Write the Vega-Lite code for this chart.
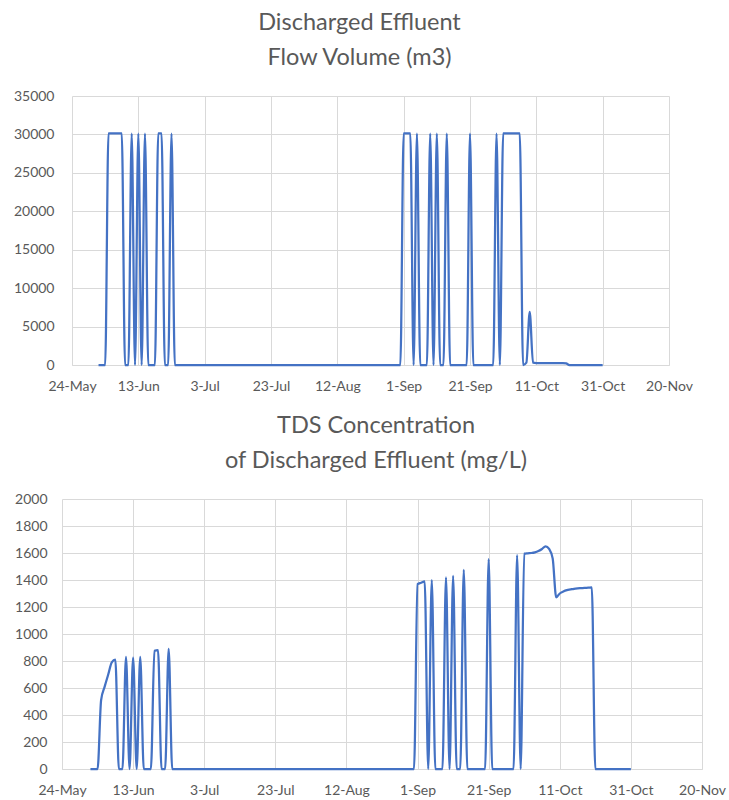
{
  "$schema": "https://vega.github.io/schema/vega-lite/v6.json",
  "padding": {"left": 13, "top": 10, "right": 5, "bottom": 5},
  "background": "white",
  "config": {
    "view": {"stroke": null},
    "font": "Lato",
    "axis": {"labelFont": "Lato", "labelFontSize": 14, "labelColor": "#595959", "gridColor": "#d9d9d9", "gridWidth": 1, "domain": false, "ticks": false, "title": null},
    "title": {"font": "Lato", "fontSize": 23.5, "fontWeight": "normal", "color": "#595959", "lineHeight": 35, "anchor": "middle"},
    "concat": {"spacing": 20},
    "line": {"color": "#4472C4", "strokeWidth": 2.25, "interpolate": "monotone"}
  },
  "datasets": {
    "d": [
      {"d": "2021/06/01", "f": 0, "t": 0},
      {"d": "2021/06/02", "f": 0, "t": 0},
      {"d": "2021/06/03", "f": 0, "t": 0},
      {"d": "2021/06/04", "f": 30150, "t": 510},
      {"d": "2021/06/05", "f": 30150, "t": 610},
      {"d": "2021/06/06", "f": 30150, "t": 700},
      {"d": "2021/06/07", "f": 30150, "t": 790},
      {"d": "2021/06/08", "f": 30150, "t": 810},
      {"d": "2021/06/09", "f": 0, "t": 0},
      {"d": "2021/06/10", "f": 0, "t": 0},
      {"d": "2021/06/11", "f": 30100, "t": 830},
      {"d": "2021/06/12", "f": 0, "t": 0},
      {"d": "2021/06/13", "f": 30100, "t": 825},
      {"d": "2021/06/14", "f": 0, "t": 0},
      {"d": "2021/06/15", "f": 30100, "t": 830},
      {"d": "2021/06/16", "f": 0, "t": 0},
      {"d": "2021/06/17", "f": 0, "t": 0},
      {"d": "2021/06/18", "f": 0, "t": 0},
      {"d": "2021/06/19", "f": 30150, "t": 875},
      {"d": "2021/06/20", "f": 30150, "t": 880},
      {"d": "2021/06/21", "f": 0, "t": 0},
      {"d": "2021/06/22", "f": 0, "t": 0},
      {"d": "2021/06/23", "f": 30100, "t": 890},
      {"d": "2021/06/24", "f": 0, "t": 0},
      {"d": "2021/06/25", "f": 0, "t": 0},
      {"d": "2021/06/26", "f": 0, "t": 0},
      {"d": "2021/06/27", "f": 0, "t": 0},
      {"d": "2021/06/28", "f": 0, "t": 0},
      {"d": "2021/06/29", "f": 0, "t": 0},
      {"d": "2021/06/30", "f": 0, "t": 0},
      {"d": "2021/07/01", "f": 0, "t": 0},
      {"d": "2021/07/02", "f": 0, "t": 0},
      {"d": "2021/07/03", "f": 0, "t": 0},
      {"d": "2021/07/04", "f": 0, "t": 0},
      {"d": "2021/07/05", "f": 0, "t": 0},
      {"d": "2021/07/06", "f": 0, "t": 0},
      {"d": "2021/07/07", "f": 0, "t": 0},
      {"d": "2021/07/08", "f": 0, "t": 0},
      {"d": "2021/07/09", "f": 0, "t": 0},
      {"d": "2021/07/10", "f": 0, "t": 0},
      {"d": "2021/07/11", "f": 0, "t": 0},
      {"d": "2021/07/12", "f": 0, "t": 0},
      {"d": "2021/07/13", "f": 0, "t": 0},
      {"d": "2021/07/14", "f": 0, "t": 0},
      {"d": "2021/07/15", "f": 0, "t": 0},
      {"d": "2021/07/16", "f": 0, "t": 0},
      {"d": "2021/07/17", "f": 0, "t": 0},
      {"d": "2021/07/18", "f": 0, "t": 0},
      {"d": "2021/07/19", "f": 0, "t": 0},
      {"d": "2021/07/20", "f": 0, "t": 0},
      {"d": "2021/07/21", "f": 0, "t": 0},
      {"d": "2021/07/22", "f": 0, "t": 0},
      {"d": "2021/07/23", "f": 0, "t": 0},
      {"d": "2021/07/24", "f": 0, "t": 0},
      {"d": "2021/07/25", "f": 0, "t": 0},
      {"d": "2021/07/26", "f": 0, "t": 0},
      {"d": "2021/07/27", "f": 0, "t": 0},
      {"d": "2021/07/28", "f": 0, "t": 0},
      {"d": "2021/07/29", "f": 0, "t": 0},
      {"d": "2021/07/30", "f": 0, "t": 0},
      {"d": "2021/07/31", "f": 0, "t": 0},
      {"d": "2021/08/01", "f": 0, "t": 0},
      {"d": "2021/08/02", "f": 0, "t": 0},
      {"d": "2021/08/03", "f": 0, "t": 0},
      {"d": "2021/08/04", "f": 0, "t": 0},
      {"d": "2021/08/05", "f": 0, "t": 0},
      {"d": "2021/08/06", "f": 0, "t": 0},
      {"d": "2021/08/07", "f": 0, "t": 0},
      {"d": "2021/08/08", "f": 0, "t": 0},
      {"d": "2021/08/09", "f": 0, "t": 0},
      {"d": "2021/08/10", "f": 0, "t": 0},
      {"d": "2021/08/11", "f": 0, "t": 0},
      {"d": "2021/08/12", "f": 0, "t": 0},
      {"d": "2021/08/13", "f": 0, "t": 0},
      {"d": "2021/08/14", "f": 0, "t": 0},
      {"d": "2021/08/15", "f": 0, "t": 0},
      {"d": "2021/08/16", "f": 0, "t": 0},
      {"d": "2021/08/17", "f": 0, "t": 0},
      {"d": "2021/08/18", "f": 0, "t": 0},
      {"d": "2021/08/19", "f": 0, "t": 0},
      {"d": "2021/08/20", "f": 0, "t": 0},
      {"d": "2021/08/21", "f": 0, "t": 0},
      {"d": "2021/08/22", "f": 0, "t": 0},
      {"d": "2021/08/23", "f": 0, "t": 0},
      {"d": "2021/08/24", "f": 0, "t": 0},
      {"d": "2021/08/25", "f": 0, "t": 0},
      {"d": "2021/08/26", "f": 0, "t": 0},
      {"d": "2021/08/27", "f": 0, "t": 0},
      {"d": "2021/08/28", "f": 0, "t": 0},
      {"d": "2021/08/29", "f": 0, "t": 0},
      {"d": "2021/08/30", "f": 0, "t": 0},
      {"d": "2021/08/31", "f": 0, "t": 0},
      {"d": "2021/09/01", "f": 30150, "t": 1370},
      {"d": "2021/09/02", "f": 30150, "t": 1380},
      {"d": "2021/09/03", "f": 30150, "t": 1390},
      {"d": "2021/09/04", "f": 0, "t": 0},
      {"d": "2021/09/05", "f": 30100, "t": 1400},
      {"d": "2021/09/06", "f": 0, "t": 0},
      {"d": "2021/09/07", "f": 0, "t": 0},
      {"d": "2021/09/08", "f": 0, "t": 0},
      {"d": "2021/09/09", "f": 30100, "t": 1420},
      {"d": "2021/09/10", "f": 0, "t": 0},
      {"d": "2021/09/11", "f": 30100, "t": 1430},
      {"d": "2021/09/12", "f": 0, "t": 0},
      {"d": "2021/09/13", "f": 0, "t": 0},
      {"d": "2021/09/14", "f": 30100, "t": 1475},
      {"d": "2021/09/15", "f": 0, "t": 0},
      {"d": "2021/09/16", "f": 0, "t": 0},
      {"d": "2021/09/17", "f": 0, "t": 0},
      {"d": "2021/09/18", "f": 0, "t": 0},
      {"d": "2021/09/19", "f": 0, "t": 0},
      {"d": "2021/09/20", "f": 0, "t": 0},
      {"d": "2021/09/21", "f": 30100, "t": 1555},
      {"d": "2021/09/22", "f": 0, "t": 0},
      {"d": "2021/09/23", "f": 0, "t": 0},
      {"d": "2021/09/24", "f": 0, "t": 0},
      {"d": "2021/09/25", "f": 0, "t": 0},
      {"d": "2021/09/26", "f": 0, "t": 0},
      {"d": "2021/09/27", "f": 0, "t": 0},
      {"d": "2021/09/28", "f": 0, "t": 0},
      {"d": "2021/09/29", "f": 30100, "t": 1585},
      {"d": "2021/09/30", "f": 0, "t": 0},
      {"d": "2021/10/01", "f": 30150, "t": 1595},
      {"d": "2021/10/02", "f": 30150, "t": 1598},
      {"d": "2021/10/03", "f": 30150, "t": 1600},
      {"d": "2021/10/04", "f": 30150, "t": 1605},
      {"d": "2021/10/05", "f": 30150, "t": 1615},
      {"d": "2021/10/06", "f": 30150, "t": 1630},
      {"d": "2021/10/07", "f": 0, "t": 1650},
      {"d": "2021/10/08", "f": 300, "t": 1630},
      {"d": "2021/10/09", "f": 6900, "t": 1560},
      {"d": "2021/10/10", "f": 300, "t": 1272},
      {"d": "2021/10/11", "f": 250, "t": 1300},
      {"d": "2021/10/12", "f": 250, "t": 1315},
      {"d": "2021/10/13", "f": 250, "t": 1325},
      {"d": "2021/10/14", "f": 250, "t": 1330},
      {"d": "2021/10/15", "f": 250, "t": 1335},
      {"d": "2021/10/16", "f": 250, "t": 1338},
      {"d": "2021/10/17", "f": 250, "t": 1340},
      {"d": "2021/10/18", "f": 250, "t": 1342},
      {"d": "2021/10/19", "f": 250, "t": 1343},
      {"d": "2021/10/20", "f": 200, "t": 1345},
      {"d": "2021/10/21", "f": 0, "t": 0},
      {"d": "2021/10/22", "f": 0, "t": 0},
      {"d": "2021/10/23", "f": 0, "t": 0},
      {"d": "2021/10/24", "f": 0, "t": 0},
      {"d": "2021/10/25", "f": 0, "t": 0},
      {"d": "2021/10/26", "f": 0, "t": 0},
      {"d": "2021/10/27", "f": 0, "t": 0},
      {"d": "2021/10/28", "f": 0, "t": 0},
      {"d": "2021/10/29", "f": 0, "t": 0},
      {"d": "2021/10/30", "f": 0, "t": 0},
      {"d": "2021/10/31", "f": 0, "t": 0}
    ]
  },
  "vconcat": [
    {
      "title": {"text": ["Discharged Effluent", "Flow Volume (m3)"], "offset": 20, "dx": -6},
      "width": 607,
      "height": 269,
      "data": {"name": "d"},
      "mark": {"type": "line"},
      "encoding": {
        "x": {
          "field": "d", "type": "temporal",
          "scale": {"domain": [{"year": 2021, "month": 5, "date": 24}, {"year": 2021, "month": 11, "date": 20}], "nice": false, "range": [10, 607]},
          "axis": {
            "values": [
              {"year": 2021, "month": 5, "date": 24}, {"year": 2021, "month": 6, "date": 13}, {"year": 2021, "month": 7, "date": 3},
              {"year": 2021, "month": 7, "date": 23}, {"year": 2021, "month": 8, "date": 12}, {"year": 2021, "month": 9, "date": 1},
              {"year": 2021, "month": 9, "date": 21}, {"year": 2021, "month": 10, "date": 11}, {"year": 2021, "month": 10, "date": 31},
              {"year": 2021, "month": 11, "date": 20}
            ],
            "format": "%-d-%b", "labelPadding": 14, "labelFlush": false, "labelOverlap": false, "labelBound": false,
            "domain": true, "domainColor": "#d9d9d9"
          }
        },
        "y": {
          "field": "f", "type": "quantitative",
          "scale": {"domain": [0, 35000], "nice": false},
          "axis": {"values": [0, 5000, 10000, 15000, 20000, 25000, 30000, 35000], "format": "d", "labelPadding": 8}
        }
      }
    },
    {
      "title": {"text": ["TDS Concentration", "of Discharged Effluent (mg/L)"], "offset": 20, "dx": -6},
      "width": 640,
      "height": 270,
      "data": {"name": "d"},
      "mark": {"type": "line"},
      "encoding": {
        "x": {
          "field": "d", "type": "temporal",
          "scale": {"domain": [{"year": 2021, "month": 5, "date": 24}, {"year": 2021, "month": 11, "date": 20}], "nice": false},
          "axis": {
            "values": [
              {"year": 2021, "month": 5, "date": 24}, {"year": 2021, "month": 6, "date": 13}, {"year": 2021, "month": 7, "date": 3},
              {"year": 2021, "month": 7, "date": 23}, {"year": 2021, "month": 8, "date": 12}, {"year": 2021, "month": 9, "date": 1},
              {"year": 2021, "month": 9, "date": 21}, {"year": 2021, "month": 10, "date": 11}, {"year": 2021, "month": 10, "date": 31},
              {"year": 2021, "month": 11, "date": 20}
            ],
            "format": "%-d-%b", "labelPadding": 14, "labelFlush": false, "labelOverlap": false, "labelBound": false,
            "domain": true, "domainColor": "#d9d9d9"
          }
        },
        "y": {
          "field": "t", "type": "quantitative",
          "scale": {"domain": [0, 2000], "nice": false},
          "axis": {"values": [0, 200, 400, 600, 800, 1000, 1200, 1400, 1600, 1800, 2000], "format": "d", "labelPadding": 15}
        }
      }
    }
  ]
}
